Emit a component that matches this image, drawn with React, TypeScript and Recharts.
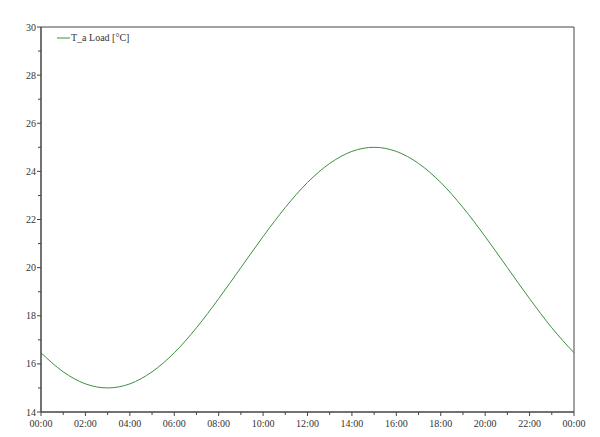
import React from 'react';
import { LineChart, Line, XAxis, YAxis, ReferenceArea } from 'recharts';

const hours = [0, 1, 2, 3, 4, 5, 6, 7, 8, 9, 10, 11, 12, 13, 14, 15, 16, 17, 18, 19, 20, 21, 22, 23, 24];
const tempLoad = [16.46, 15.67, 15.17, 15.0, 15.17, 15.67, 16.46, 17.5, 18.71, 20.0, 21.29, 22.5, 23.54, 24.33, 24.83, 25.0, 24.83, 24.33, 23.54, 22.5, 21.29, 20.0, 18.71, 17.5, 16.46];
const xTicks = hours;
const yTicks = [14, 15, 16, 17, 18, 19, 20, 21, 22, 23, 24, 25, 26, 27, 28, 29, 30];
const seriesName = 'T_a Load [°C]';

const data = hours.map((h, i) => ({ h, v: tempLoad[i] }));

const AXIS = '#444';
const TEXT = '#333';
const LINE = '#3d8f3d';
const FONT = "'Times New Roman', 'Liberation Serif', 'DejaVu Serif', serif";

const fmtHour = (h: number) => `${String(h === 24 ? 0 : h).padStart(2, '0')}:00`;

const XTick = (props: any) => {
  const { x, y, payload } = props;
  const major = payload.value % 2 === 0;
  return (
    <g>
      <line x1={x} y1={y} x2={x} y2={y + (major ? 4 : 3)} stroke={AXIS} strokeWidth={1} />
      {major && (
        <text x={x} y={y + 15} textAnchor="middle" style={{ fontFamily: FONT, fontSize: 10 }} fill={TEXT}>
          {fmtHour(payload.value)}
        </text>
      )}
    </g>
  );
};

const YTick = (props: any) => {
  const { x, y, payload } = props;
  const major = payload.value % 2 === 0;
  return (
    <g>
      <line x1={x} y1={y} x2={x - (major ? 4 : 3)} y2={y} stroke={AXIS} strokeWidth={1} />
      {major && (
        <text x={x - 5} y={y + 3.5} textAnchor="end" style={{ fontFamily: FONT, fontSize: 10 }} fill={TEXT}>
          {payload.value}
        </text>
      )}
    </g>
  );
};

export default function App() {
  return (
    <div style={{ position: 'absolute', left: 0, top: 0, width: 600, height: 437, background: '#fff' }}>
      <LineChart width={600} height={437} data={data} margin={{ top: 27, right: 26, left: 11, bottom: 0 }}>
        <XAxis
          dataKey="h"
          type="number"
          domain={[0, 24]}
          ticks={xTicks}
          interval={0}
          height={25}
          tickSize={0}
          tickMargin={0}
          tickLine={false}
          axisLine={{ stroke: AXIS }}
          tick={<XTick />}
        />
        <YAxis
          type="number"
          domain={[14, 30]}
          ticks={yTicks}
          interval={0}
          width={30}
          tickSize={0}
          tickMargin={0}
          tickLine={false}
          axisLine={{ stroke: AXIS }}
          tick={<YTick />}
        />
        <ReferenceArea x1={0} x2={24} y1={14} y2={30} fill="none" fillOpacity={0} stroke={AXIS} strokeWidth={1} />
        <Line
          type="monotone"
          dataKey="v"
          name={seriesName}
          stroke={LINE}
          strokeWidth={1}
          dot={false}
          isAnimationActive={false}
        />
      </LineChart>
      <div
        style={{
          position: 'absolute',
          left: 57,
          top: 32,
          display: 'flex',
          alignItems: 'center',
          fontFamily: FONT,
          fontSize: 10,
          color: TEXT,
          lineHeight: '12px',
          whiteSpace: 'nowrap',
        }}
      >
        <svg width={13} height={4} style={{ marginRight: 1 }}>
          <line x1={0} y1={2} x2={13} y2={2} stroke={LINE} strokeWidth={1} />
        </svg>
        <span>{seriesName}</span>
      </div>
    </div>
  );
}
